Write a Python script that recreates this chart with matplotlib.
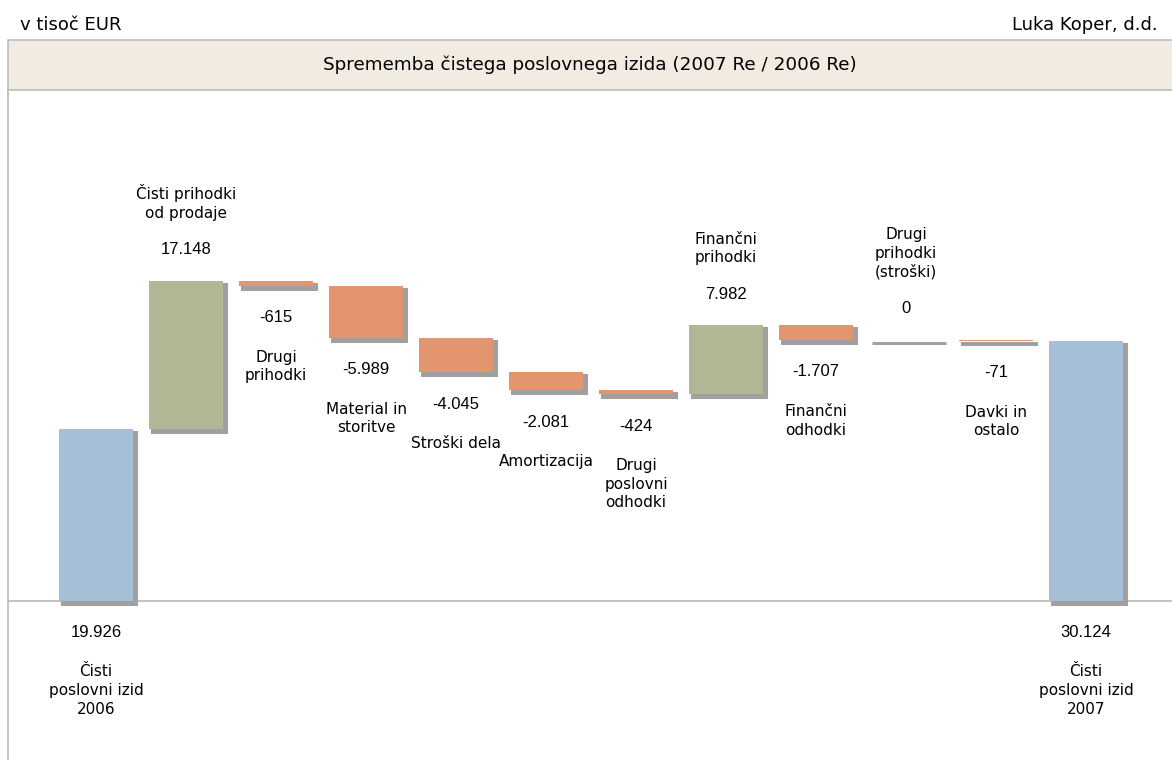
import numpy as np
import matplotlib
matplotlib.use('Agg')
import matplotlib.pyplot as plt
import matplotlib.transforms as mtransforms
from matplotlib.patches import Rectangle

# Data (v tisoč EUR, decimal values in thousands shown with "." separators)
categories = ['Čisti\nposlovni izid\n2006', 'Čisti prihodki\nod prodaje', 'Drugi\nprihodki',
              'Material in\nstoritve', 'Stroški dela', 'Amortizacija', 'Drugi\nposlovni\nodhodki',
              'Finančni\nprihodki', 'Finančni\nodhodki', 'Drugi\nprihodki\n(stroški)',
              'Davki in\nostalo', 'Čisti\nposlovni izid\n2007']
values = [19.926, 17.148, -0.615, -5.989, -4.045, -2.081, -0.424, 7.982, -1.707, 0.0, -0.071, 30.124]
value_labels = ['19.926', '17.148', '-615', '-5.989', '-4.045', '-2.081', '-424',
                '7.982', '-1.707', '0', '-71', '30.124']
is_total = [True, False, False, False, False, False, False, False, False, False, False, True]

# Colours
c_total = '#a5bfd6'
c_up = '#b1b795'
c_down = '#e2956f'
c_zero = '#b4b4b4'
c_shadow = '#a0a0a0'

W, H = 1172, 760
fig = plt.figure(figsize=(W / 100, H / 100), dpi=100)

# axes: from x=8px to right edge, from bottom to y=90px
ax = fig.add_axes([8 / W, 0, 1 - 8 / W, (H - 90) / H])

# waterfall bottoms / heights
bottoms, heights, colors = [], [], []
running = 0.0
for v, tot in zip(values, is_total):
    if tot:
        bottoms.append(0.0)
        heights.append(v)
        colors.append(c_total)
        running = v
    else:
        start = running
        running = running + v
        bottoms.append(min(start, running))
        heights.append(abs(v))
        if v > 0:
            colors.append(c_up)
        elif v < 0:
            colors.append(c_down)
        else:
            colors.append(c_zero)

x = np.arange(len(values))
bw = 0.82

# shadows
shadow_off = mtransforms.ScaledTranslation(3 / 100, -3 / 100, fig.dpi_scale_trans)
shadows = ax.bar(x, heights, bw, bottom=bottoms, color=c_shadow, edgecolor=c_shadow,
                 linewidth=2.2, zorder=2)
for p in shadows:
    p.set_transform(ax.transData + shadow_off)

ax.bar(x, heights, bw, bottom=bottoms, color=colors, linewidth=0, zorder=3)

# labels
fs_num = 12
fs_lab = 11
px = 0.72  # points per pixel
for i, (v, tot) in enumerate(zip(values, is_total)):
    if tot:
        y0 = 0.0
        below = True
    elif v < 0:
        y0 = bottoms[i]
        below = True
    else:
        y0 = bottoms[i] + heights[i]
        below = False
    if below:
        ax.annotate(value_labels[i], (x[i], y0), xytext=(0, -32 * px), textcoords='offset points',
                    ha='center', va='center', fontsize=fs_num, family='Liberation Sans', zorder=5)
        ax.annotate(categories[i], (x[i], y0), xytext=(0, -64 * px), textcoords='offset points',
                    ha='center', va='top', fontsize=fs_lab, linespacing=1.3,
                    family='DejaVu Sans', zorder=5)
    else:
        ax.annotate(value_labels[i], (x[i], y0), xytext=(0, 31 * px), textcoords='offset points',
                    ha='center', va='center', fontsize=fs_num, family='Liberation Sans', zorder=5)
        ax.annotate(categories[i], (x[i], y0), xytext=(0, 60 * px), textcoords='offset points',
                    ha='center', va='bottom', fontsize=fs_lab, linespacing=1.3,
                    family='DejaVu Sans', zorder=5)

ax.axhline(0, color='#b8b8b8', linewidth=1.2, zorder=1)

scale = 8.63
ax.set_ylim(-159.5 / scale, 510.5 / scale)
ax.set_xlim(-88 / 90, (1172 - 96) / 90)
ax.set_xticks([])
ax.set_yticks([])
for s in ['top', 'right', 'bottom']:
    ax.spines[s].set_visible(False)
ax.spines['left'].set_color('#b8b8b8')
ax.spines['left'].set_linewidth(1.2)

# title box
fig.patches.append(Rectangle((8 / W, (H - 90) / H), 1.2, 50 / H, transform=fig.transFigure,
                             facecolor='#f2ebe1', edgecolor='#bdbdbd', linewidth=1.2, zorder=0))
fig.text(590 / W, 1 - 65 / H, 'Sprememba čistega poslovnega izida (2007 Re / 2006 Re)',
         ha='center', va='center', fontsize=13.2, family='DejaVu Sans')
fig.text(20 / W, 1 - 25 / H, 'v tisoč EUR', ha='left', va='center', fontsize=13,
         family='DejaVu Sans')
fig.text(1158 / W, 1 - 25 / H, 'Luka Koper, d.d.', ha='right', va='center', fontsize=13,
         family='DejaVu Sans')

fig.savefig('out.png', dpi=100)
